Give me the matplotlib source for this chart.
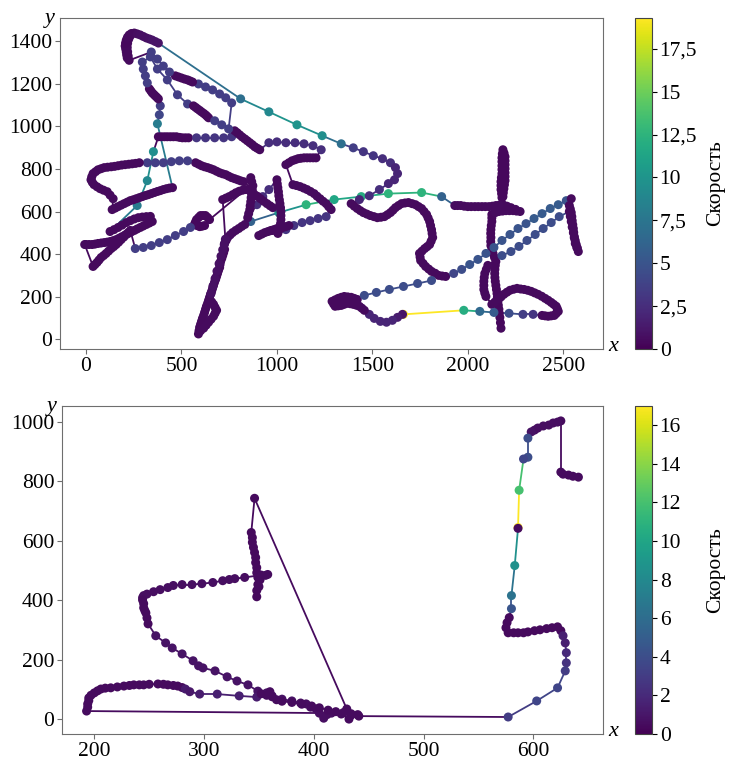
import matplotlib
matplotlib.use("Agg")
import matplotlib.pyplot as plt
from matplotlib.collections import LineCollection
from matplotlib.ticker import FuncFormatter, MultipleLocator
import numpy as np

plt.rcParams["font.family"] = ["Liberation Serif", "DejaVu Serif"]

# ---- track 1 (upper plot): x, y, speed; rows line up piece by piece ----
top_x = [
    # lower vertical worm
    2174, 2171, 2168, 2165, 2163, 2160, 2158, 2155, 2153, 2150, 2147, 2144, 2142, 2141, 2142,
    2144, 2147, 2140, 2132, 2126, 2121, 2120, 2121, 2120, 2121, 2123, 2126, 2126, 2126,
    # bar, spike, bar
    2145, 2163, 2182, 2200, 2218, 2237, 2255, 2274,
    2250, 2226, 2205, 2184,
    2179, 2177, 2174, 2174, 2174, 2176, 2179, 2179, 2179, 2179, 2179, 2181, 2184,
    2190, 2195, 2195, 2195, 2195, 2195, 2195, 2195, 2192, 2189, 2186, 2184,
    2165, 2147, 2129, 2111, 2092, 2074, 2055, 2037, 2018, 2000, 1981, 1963, 1947, 1932,
    # green chain going left
    1863, 1758, 1584, 1442, 1300, 1153, 1010, 863,
    # long worm down and the V at its foot
    832, 816, 800, 784, 768, 755, 742, 734, 726,
    726, 721, 716, 711, 705, 702, 700, 694, 689, 684, 679, 673, 668, 663, 658,
    652, 647, 642, 637, 631, 626, 621, 616, 610, 605, 600, 595, 592, 589,
    600, 616, 629, 642, 655, 668, 676, 684, 676, 668, 658, 647,
    655, 665, 676, 686, 697, 707, 716, 724, 730,
    716, 733, 750, 768, 785, 802, 820, 837,
    647, 637, 626, 613, 600, 590, 579, 573, 568, 581, 595, 608, 621,
    547, 511, 468, 426, 384, 342, 300, 258,
    # cross on the left
    232, 221, 211, 198, 184, 171, 158, 145, 132, 118, 105, 92, 79, 68, 58, 47, 37,
    -7, 0, 16, 32, 47, 63, 79, 95, 110, 126, 142, 158, 174, 189, 205, 221, 237, 253, 268, 284,
    300, 316, 332, 347,
    337, 316, 295, 274, 253, 232, 211, 189, 168, 147, 126,
    268, 321, 353,
    # the ~950 row and the central tangle
    379, 395, 411, 426, 442, 458, 474, 490, 505, 521, 537,
    579, 626, 674, 721, 763,
    779, 792, 805, 818, 832, 845, 858, 871, 884, 897, 910,
    958, 1000, 1047, 1095, 1142, 1189, 1232,
    1205, 1190, 1174, 1158, 1142, 1126, 1111, 1095, 1079, 1063, 1047,
    1084, 1102, 1121, 1140, 1158, 1176, 1195, 1210, 1226, 1242, 1258, 1271, 1284,
    1258, 1216, 1174, 1132, 1089, 1047,
    1063, 1047, 1031, 1016, 1000, 984, 968, 953, 937, 921, 905,
    1005, 1010, 1016, 1019, 1021, 1021, 1021, 1019, 1016, 1013, 1010, 1008, 1005, 1002, 1000,
    958, 926, 895,
    847, 852, 858, 860, 863, 865, 868, 871, 874, 868, 863,
    863, 880, 897, 914, 931, 948, 964, 979,
    826, 810, 795, 779, 763, 747, 732, 716, 700, 684, 668, 653, 637, 621, 605, 590, 574,
    532, 489, 447, 405, 363, 321,
    279, 260, 242, 224, 205, 187, 168, 150, 132, 113, 95, 79, 63, 50, 37, 30, 26, 33, 42, 58,
    74, 92, 111, 126, 142,
    137, 153, 168, 184, 200, 216, 232, 247, 263, 279, 295, 311, 326, 342, 358, 374, 389, 405,
    421, 437, 453,
    # back up towards the apex
    374, 384, 389,
    379, 371, 363, 355, 347, 340, 332,
    321, 311, 300, 295,
    337, 374, 426, 479, 532,
    563, 574, 584, 595, 605, 616, 626, 634, 642,
    674, 711, 747,
    763, 732, 700, 663, 626, 589,
    558, 545, 532, 516, 500, 484, 468,
    437, 405, 374, 342,
    # apex hook
    226, 221, 218, 216, 218, 224, 232,
    216, 213, 211, 208, 205, 207, 211, 217, 226, 238, 253, 268, 284, 300, 316, 332, 347, 363, 379,
    # teal chain to the loop
    810, 958, 1105, 1237, 1337, 1400, 1453, 1505, 1553, 1595, 1621, 1632, 1616, 1584,
    1537, 1484, 1432,
    1389, 1405, 1421, 1437, 1453, 1471, 1489, 1508, 1526, 1545, 1563, 1579, 1595, 1608, 1621,
    1637, 1653, 1671, 1689, 1708, 1726, 1742, 1758, 1771, 1784, 1792, 1800, 1805, 1810, 1813,
    1816, 1808, 1800, 1787, 1774, 1760, 1747, 1750, 1753, 1766, 1779, 1795, 1810, 1829, 1847,
    1866, 1884,
    # chain up-right, right worm, chain back
    1926, 1968, 2010, 2053, 2095, 2137, 2179, 2221, 2263, 2305, 2347, 2389, 2432, 2474, 2516,
    2542, 2532, 2537, 2542, 2545, 2547, 2550, 2553, 2555, 2558, 2563, 2568, 2574, 2579, 2571,
    2563, 2558, 2553, 2547, 2542, 2537, 2532,
    2479, 2437, 2395, 2353, 2310, 2268, 2226, 2179,
    2105, 2097, 2089, 2086, 2084, 2084, 2084, 2089, 2095,
    2126, 2142, 2158, 2174, 2189, 2205, 2221, 2240, 2258, 2277, 2295, 2314, 2332, 2350, 2368,
    2387, 2405, 2421, 2437, 2450, 2463, 2469, 2474, 2463, 2453, 2437, 2421, 2405, 2389,
    2342, 2289, 2216, 2137, 2063,
    1979, 1663, 1658,
    1632, 1605, 1574, 1542, 1510, 1484,
    1458, 1445, 1432, 1416, 1400, 1384, 1368, 1352, 1337, 1321, 1305, 1297, 1289, 1305, 1321,
    1337, 1353, 1371, 1389, 1405, 1421,
    1458, 1521, 1589, 1663, 1737, 1810,
]
top_y = [
    52, 78, 103, 122, 141, 160, 178, 197, 215, 234, 253, 272, 290, 309, 328,
    347, 365, 384, 403, 421, 440, 459, 478, 497, 515, 534, 553, 570, 586,
    595, 600, 602, 604, 604, 604, 602, 600,
    610, 618, 625, 632,
    665, 684, 703, 722, 740, 759, 778, 797, 815, 834, 852, 871, 890,
    874, 857, 838, 820, 801, 782, 764, 745, 726, 707, 688, 670,
    630, 628, 625, 623, 623, 623, 623, 623, 623, 623, 625, 628, 628, 628,
    670, 689, 684, 670, 656, 632, 595, 553,
    539, 530, 520, 511, 501, 490, 478, 464, 450,
    422, 407, 393, 379, 365, 351, 337, 323, 309, 295, 281, 267, 253, 239, 225,
    211, 197, 183, 169, 155, 141, 126, 112, 98, 84, 70, 56, 40, 25,
    40, 52, 66, 80, 94, 108, 122, 136, 150, 164, 176, 187,
    215, 250, 285, 320, 355, 390, 420, 445, 470,
    656, 663, 670, 679, 688, 695, 700, 703,
    562, 572, 581, 581, 581, 572, 562, 550, 539, 534, 529, 531, 534,
    525, 506, 487, 468, 454, 440, 431, 426,
    511, 501, 492, 480, 468, 456, 445, 435, 426, 414, 403, 393, 384, 372, 361, 351, 342,
    445, 445, 445, 445, 447, 450, 452, 454, 456, 459, 463, 468, 475, 482, 490, 497, 504, 511, 518, 525,
    532, 539, 546, 553,
    577, 576, 574, 571, 565, 557, 548, 536, 525, 515, 506,
    628, 745, 881,
    951, 951, 951, 951, 951, 951, 951, 948, 946, 946, 946,
    946, 946, 946, 946, 951,
    979, 970, 960, 950, 941, 932, 923, 914, 904, 897, 890,
    923, 927, 923, 923, 918, 909, 890,
    852, 852, 852, 852, 852, 850, 848, 843, 838, 829, 820,
    726, 722, 717, 710, 703, 694, 684, 672, 660, 648, 637, 623, 609,
    576, 567, 557, 548, 534, 515,
    534, 529, 525, 522, 520, 515, 511, 506, 501, 494, 487,
    497, 511, 525, 543, 562, 581, 600, 618, 637, 655, 674, 693, 712, 730, 749,
    703, 670, 632,
    571, 590, 609, 627, 646, 665, 684, 702, 721, 740, 759,
    693, 682, 672, 660, 648, 637, 627, 618,
    740, 744, 749, 754, 759, 766, 773, 777, 782, 789, 796, 801, 806, 810, 815, 822, 829,
    838, 838, 834, 829, 829, 829,
    829, 826, 824, 822, 820, 818, 815, 812, 810, 808, 806, 801, 796, 787, 778, 763, 749, 737, 726, 716,
    707, 700, 693, 677, 660,
    609, 616, 623, 630, 637, 644, 651, 655, 660, 665, 670, 675, 679, 684, 689, 694, 698, 703,
    707, 710, 712,
    1012, 1054, 1096,
    1129, 1136, 1143, 1150, 1157, 1166, 1176,
    1204, 1237, 1269, 1302,
    1326, 1269, 1218, 1148, 1105,
    1096, 1089, 1082, 1075, 1068, 1061, 1054, 1047, 1040,
    1026, 1007, 988,
    1110, 1134, 1152, 1171, 1185, 1199,
    1208, 1213, 1218, 1222, 1227, 1232, 1237,
    1255, 1283, 1316, 1349,
    1310, 1330, 1350, 1370, 1390, 1410, 1425,
    1321, 1335, 1349, 1363, 1377, 1391, 1405, 1418, 1429, 1436, 1438, 1434, 1429, 1422, 1415, 1410, 1405, 1398, 1391,
    1129, 1068, 1007, 956, 918, 899, 881, 862, 848, 829, 806, 778, 749, 731,
    703, 674, 656,
    637, 625, 614, 604, 595, 588, 581, 576, 571, 573, 576, 585, 595, 606, 618,
    628, 637, 640, 642, 637, 632, 623, 614, 600, 586, 570, 553, 534, 515, 497,
    478, 461, 445, 435, 426, 414, 403, 386, 370, 356, 342, 330, 319, 310, 300,
    297, 295,
    309, 328, 351, 375, 403, 431, 464, 492, 520, 543, 567, 590, 614, 632, 651,
    660, 628, 612, 595, 576, 557, 538, 520, 501, 482, 463, 445, 428, 412, 431,
    450, 476, 501, 527, 553, 577, 600,
    576, 548, 520, 492, 464, 436, 412, 393,
    347, 328, 309, 290, 272, 253, 234, 217, 201,
    164, 175, 187, 199, 211, 221, 230, 235, 239, 236, 234, 230, 225, 218, 211,
    202, 192, 183, 173, 164, 155, 143, 131, 121, 112, 110, 108, 110, 112,
    117, 117, 122, 126, 131,
    136, 117, 117,
    103, 89, 80, 84, 98, 117,
    136, 146, 155, 160, 164, 167, 169, 164, 159, 157, 155, 166, 178, 185, 192,
    197, 201, 199, 197, 192, 187,
    206, 220, 234, 248, 262, 276,
]
top_v = [
    0.5, 0.4, 0.4, 0.4, 0.4, 0.4, 0.4, 0.4, 0.4, 0.4, 0.4, 0.4, 0.4, 0.4, 0.4,
    0.4, 0.4, 0.4, 0.4, 0.4, 0.4, 0.4, 0.4, 0.4, 0.4, 0.4, 0.4, 0.4, 0.4,
    0.6, 0.6, 0.6, 0.6, 0.6, 0.6, 0.6, 0.6,
    0.5, 0.5, 0.5, 0.5,
    0.4, 0.4, 0.4, 0.4, 0.4, 0.4, 0.4, 0.4, 0.4, 0.4, 0.4, 0.4, 0.4,
    0.4, 0.4, 0.4, 0.4, 0.4, 0.4, 0.4, 0.4, 0.4, 0.4, 0.4, 0.4,
    0.6, 0.6, 0.6, 0.6, 0.6, 0.6, 0.6, 0.6, 0.6, 0.6, 0.6, 0.6, 0.6, 0.6,
    6, 12.5, 12.5, 12, 11.5, 12.5, 10, 6,
    0.6, 0.6, 0.6, 0.6, 0.6, 0.6, 0.6, 0.6, 0.6,
    0.5, 0.5, 0.5, 0.5, 0.5, 0.5, 0.5, 0.5, 0.5, 0.5, 0.5, 0.5, 0.5, 0.5, 0.5,
    0.5, 0.5, 0.5, 0.5, 0.5, 0.5, 0.5, 0.5, 0.5, 0.5, 0.5, 0.5, 0.5, 0.5,
    0.6, 0.6, 0.6, 0.6, 0.6, 0.6, 0.6, 0.6, 0.6, 0.6, 0.6, 0.6,
    0.8, 0.8, 0.8, 0.8, 0.8, 0.8, 0.8, 0.8, 0.8,
    0.5, 0.5, 0.5, 0.5, 0.5, 0.5, 0.5, 0.5,
    0.4, 0.4, 0.4, 0.4, 0.4, 0.4, 0.4, 0.4, 0.4, 0.4, 0.4, 0.4, 0.4,
    3.5, 3.5, 3.5, 3.5, 3.5, 3.5, 3.5, 3.5,
    0.5, 0.5, 0.5, 0.5, 0.5, 0.5, 0.5, 0.5, 0.5, 0.5, 0.5, 0.5, 0.5, 0.5, 0.5, 0.5, 0.5,
    0.5, 0.5, 0.5, 0.5, 0.5, 0.5, 0.5, 0.5, 0.5, 0.5, 0.5, 0.5, 0.5, 0.5, 0.5, 0.5, 0.5, 0.5, 0.5, 0.5,
    0.5, 0.5, 0.5, 0.5,
    0.5, 0.5, 0.5, 0.5, 0.5, 0.5, 0.5, 0.5, 0.5, 0.5, 0.5,
    8, 9, 9.5,
    0.4, 0.4, 0.4, 0.4, 0.4, 0.4, 0.4, 0.4, 0.4, 0.4, 0.4,
    3, 3, 3, 3, 3,
    0.5, 0.5, 0.5, 0.5, 0.5, 0.5, 0.5, 0.5, 0.5, 0.5, 0.5,
    2.5, 2.5, 2.5, 2.5, 2.5, 2.5, 2.5,
    0.5, 0.5, 0.5, 0.5, 0.5, 0.5, 0.5, 0.5, 0.5, 0.5, 0.5,
    0.6, 0.6, 0.6, 0.6, 0.6, 0.6, 0.6, 0.6, 0.6, 0.6, 0.6, 0.6, 0.6,
    3, 3, 3, 3, 3, 3,
    0.5, 0.5, 0.5, 0.5, 0.5, 0.5, 0.5, 0.5, 0.5, 0.5, 0.5,
    0.5, 0.5, 0.5, 0.5, 0.5, 0.5, 0.5, 0.5, 0.5, 0.5, 0.5, 0.5, 0.5, 0.5, 0.5,
    2.5, 2.5, 2.5,
    0.5, 0.5, 0.5, 0.5, 0.5, 0.5, 0.5, 0.5, 0.5, 0.5, 0.5,
    0.5, 0.5, 0.5, 0.5, 0.5, 0.5, 0.5, 0.5,
    0.5, 0.5, 0.5, 0.5, 0.5, 0.5, 0.5, 0.5, 0.5, 0.5, 0.5, 0.5, 0.5, 0.5, 0.5, 0.5, 0.5,
    3.5, 3.5, 3.5, 3.5, 3.5, 3.5,
    0.5, 0.5, 0.5, 0.5, 0.5, 0.5, 0.5, 0.5, 0.5, 0.5, 0.5, 0.5, 0.5, 0.5, 0.5, 0.5, 0.5, 0.5, 0.5, 0.5,
    0.5, 0.5, 0.5, 0.5, 0.5,
    0.5, 0.5, 0.5, 0.5, 0.5, 0.5, 0.5, 0.5, 0.5, 0.5, 0.5, 0.5, 0.5, 0.5, 0.5, 0.5, 0.5, 0.5,
    0.5, 0.5, 0.5,
    8, 4, 3.5,
    0.5, 0.5, 0.5, 0.5, 0.5, 0.5, 0.5,
    3.5, 3.5, 3.5, 3.5,
    3.5, 3.5, 3.5, 3.5, 3.5,
    0.5, 0.5, 0.5, 0.5, 0.5, 0.5, 0.5, 0.5, 0.5,
    3.5, 3.5, 3.5,
    3.5, 3.5, 3.5, 3.5, 3.5, 3.5,
    0.5, 0.5, 0.5, 0.5, 0.5, 0.5, 0.5,
    3.5, 3.5, 3.5, 3.5,
    0.5, 0.5, 0.5, 0.5, 0.5, 0.5, 0.5,
    0.6, 0.5, 0.5, 0.5, 0.5, 0.4, 0.4, 0.5, 0.5, 0.6, 0.6, 0.7, 0.8, 0.8, 0.8, 0.9, 1, 1, 1,
    7, 9, 10, 9.5, 7, 3.5, 3, 3, 2.5, 2.5, 2, 2, 2, 2,
    2.5, 2.5, 2,
    0.5, 0.5, 0.5, 0.5, 0.5, 0.5, 0.5, 0.5, 0.5, 0.5, 0.5, 0.5, 0.5, 0.5, 0.5,
    0.5, 0.5, 0.5, 0.5, 0.5, 0.5, 0.5, 0.5, 0.5, 0.5, 0.5, 0.5, 0.5, 0.5, 0.5,
    0.5, 0.5, 0.5, 0.5, 0.5, 0.5, 0.5, 0.5, 0.5, 0.5, 0.5, 0.5, 0.5, 0.5, 0.5,
    0.5, 0.5,
    4, 4.5, 5, 5, 5, 5, 5, 5, 5, 5, 5.5, 5.5, 5.5, 5.5, 5,
    0.5, 0.5, 0.5, 0.5, 0.5, 0.5, 0.5, 0.5, 0.5, 0.5, 0.5, 0.5, 0.5, 0.5, 0.5,
    0.5, 0.5, 0.5, 0.5, 0.5, 0.5, 0.5,
    4.5, 4.5, 4.5, 4.5, 4.5, 4.5, 4.5, 4.5,
    0.5, 0.5, 0.5, 0.5, 0.5, 0.5, 0.5, 0.5, 0.5,
    0.5, 0.5, 0.5, 0.5, 0.5, 0.5, 0.5, 0.5, 0.5, 0.5, 0.5, 0.5, 0.5, 0.5, 0.5,
    0.5, 0.5, 0.5, 0.5, 0.5, 0.5, 0.5, 0.5, 0.5, 0.5, 0.5, 0.5, 0.5, 0.5,
    3, 3.5, 4.5, 5.5, 6.5,
    12, 19.3, 1,
    1.5, 2, 2, 2, 2, 2,
    0.5, 0.5, 0.5, 0.5, 0.5, 0.5, 0.5, 0.5, 0.5, 0.5, 0.5, 0.5, 0.5, 0.5, 0.5,
    0.5, 0.5, 0.5, 0.5, 0.5, 0.5,
    4.5, 4.5, 4.5, 4.5, 4.5, 4.5,
]

# ---- track 2 (lower plot): x, y, speed ----
bot_x = [
    641, 636, 632, 627, 625,
    625,
    622, 618, 614, 609, 604, 601, 598,
    595, 595, 591,
    587, 586, 586,
    583, 580, 580,
    578, 576, 575, 577, 582, 586, 591, 595, 601, 606, 612, 617, 622, 625,
    627, 629, 630, 630, 629, 622, 603, 577,
    441, 434, 432, 425, 430,
    346,
    343, 344, 344, 345, 346, 347, 347, 348, 348, 349, 349, 348, 348,
    350, 351, 356, 358, 352,
    337, 328, 323, 317, 308, 298, 289, 280, 272, 267, 260, 254, 248, 245, 244,
    244, 245, 245, 246, 247, 248, 249,
    256, 265, 271, 280, 290, 295, 299, 310, 321, 330, 340, 349, 357, 362, 371, 380,
    388, 393, 397, 402, 405, 409, 412, 416,
    193, 194, 194, 195, 195, 197, 200, 203, 206, 210, 215, 221, 227, 232, 236, 241,
    245, 250, 258, 263, 267, 272, 276, 280,
    283, 287, 296, 312, 332, 348,
    352, 357, 360, 362, 366,
    371, 380, 389, 398, 405, 413, 420, 427, 434, 440,
]
bot_y = [
    813, 816, 820, 823, 830,
    1002,
    998, 995, 988, 985, 978, 971, 965,
    944, 880, 874,
    769, 644, 641,
    516, 415, 371,
    341, 324, 307, 290, 290, 290, 290, 293, 297, 300, 304, 307, 310, 297,
    280, 256, 223, 189, 162, 105, 61, 7,
    10, 13, 0, 17, 34,
    742,
    627, 610, 594, 577, 560, 543, 526, 509, 492, 476, 452, 432, 411,
    445, 468, 483, 486, 484,
    476, 472, 469, 465, 459, 455, 452, 452, 449, 442, 435, 428, 420, 415, 408,
    400, 388, 374, 365, 357, 340, 320,
    280, 256, 239, 219, 196, 179, 172, 162, 142, 128, 115, 94, 88, 78, 67, 61,
    54, 51, 40, 34, 20, 3, 15, 20,
    27, 40, 51, 62, 71, 80, 88, 95, 101, 104, 105, 108, 111, 113, 115, 115,
    115, 117, 118, 117, 115, 113, 111, 106,
    101, 92, 84, 84, 78, 74,
    85, 80, 92, 75, 65,
    60, 56, 50, 44, 38, 30, 25, 22, 18, 15,
]
bot_v = [
    0.5, 0.5, 0.5, 0.5, 0.5,
    0.5,
    0.6, 0.6, 0.6, 0.6, 0.6, 0.6, 0.8,
    4, 4, 3.5,
    12, 17, 0.5,
    8.5, 6.5, 4.5,
    0.4, 0.4, 0.4, 0.4, 0.4, 0.4, 0.4, 0.4, 0.4, 0.4, 0.4, 0.4, 0.4, 0.4,
    1.5, 1.5, 2, 2.5, 3, 3.5, 3.5, 3,
    0.5, 0.5, 0.5, 0.5, 0.5,
    0.5,
    0.4, 0.4, 0.4, 0.4, 0.4, 0.4, 0.4, 0.4, 0.4, 0.4, 0.4, 0.4, 0.4,
    0.5, 0.5, 0.5, 0.5, 0.5,
    0.6, 0.6, 0.6, 0.6, 0.6, 0.6, 0.6, 0.6, 0.6, 0.6, 0.6, 0.6, 0.6, 0.6, 0.6,
    0.5, 0.5, 0.5, 0.5, 0.5, 0.5, 0.5,
    0.8, 0.8, 0.8, 0.8, 0.8, 0.8, 0.8, 0.8, 0.8, 0.8, 0.8, 0.8, 0.8, 0.8, 0.8, 0.8,
    0.6, 0.6, 0.6, 0.6, 0.6, 0.6, 0.6, 0.6,
    0.5, 0.5, 0.5, 0.5, 0.5, 0.5, 0.5, 0.5, 0.5, 0.5, 0.5, 0.5, 0.5, 0.5, 0.5, 0.5,
    0.5, 0.5, 0.5, 0.5, 0.5, 0.5, 0.5, 0.5,
    1.2, 1, 1.3, 1.5, 1.5, 1.3,
    0.5, 0.5, 0.5, 0.5, 0.5,
    0.5, 0.5, 0.5, 0.5, 0.5, 0.5, 0.5, 0.5, 0.5, 0.5,
]

SPEED_LABEL = "Скорость"
GREY = "#6e6e6e"


def comma_fmt(val, pos):
    return f"{val:g}".replace(".", ",")


def draw_track(fig, ax, cax, xs, ys, vs, xstep, ystep, cstep):
    """Track points coloured by speed, joined by segments in the same colours."""
    x = np.asarray(xs, dtype=float)
    y = np.asarray(ys, dtype=float)
    v = np.asarray(vs, dtype=float)
    norm = plt.Normalize(0, v.max())

    pts = np.column_stack([x, y])
    segs = np.stack([pts[:-1], pts[1:]], axis=1)
    lc = LineCollection(segs, cmap="viridis", norm=norm, linewidths=1.3, zorder=1)
    lc.set_array(v[1:])
    ax.add_collection(lc)
    sc = ax.scatter(x, y, c=v, cmap="viridis", norm=norm, s=42,
                    edgecolors="none", zorder=2)
    ax.autoscale_view()

    ax.xaxis.set_major_locator(MultipleLocator(xstep))
    ax.yaxis.set_major_locator(MultipleLocator(ystep))
    for sp in ax.spines.values():
        sp.set_color(GREY)
    ax.tick_params(labelsize=15.5, color=GREY, length=3.5, pad=2)

    ax.annotate("y", xy=(0, 1), xycoords="axes fraction", xytext=(-4, 0),
                textcoords="offset points", ha="right", va="center",
                fontsize=16, fontstyle="italic")
    ax.annotate("x", xy=(1, 0), xycoords="axes fraction", xytext=(4, 2),
                textcoords="offset points", ha="left", va="center",
                fontsize=16, fontstyle="italic")

    cb = fig.colorbar(sc, cax=cax)
    cb.outline.set_edgecolor("#444444")
    cb.ax.yaxis.set_major_locator(MultipleLocator(cstep))
    cb.ax.yaxis.set_major_formatter(FuncFormatter(comma_fmt))
    cb.ax.tick_params(labelsize=15.5, length=3.5, pad=2)
    cb.set_label(SPEED_LABEL, fontsize=15.5)
    cb.ax.yaxis.set_label_coords(4.2, 0.5)


fig = plt.figure(figsize=(7.3, 7.6), dpi=100)
ax1 = fig.add_axes([60 / 730, 1 - 349 / 760, 543 / 730, 331 / 760])
cax1 = fig.add_axes([635 / 730, 1 - 349 / 760, 17 / 730, 331 / 760])
ax2 = fig.add_axes([62 / 730, 1 - 734 / 760, 541 / 730, 328 / 760])
cax2 = fig.add_axes([635 / 730, 1 - 734 / 760, 17 / 730, 328 / 760])

draw_track(fig, ax1, cax1, top_x, top_y, top_v, 500, 200, 2.5)
draw_track(fig, ax2, cax2, bot_x, bot_y, bot_v, 100, 200, 2)

fig.savefig("out.png", dpi=100)
